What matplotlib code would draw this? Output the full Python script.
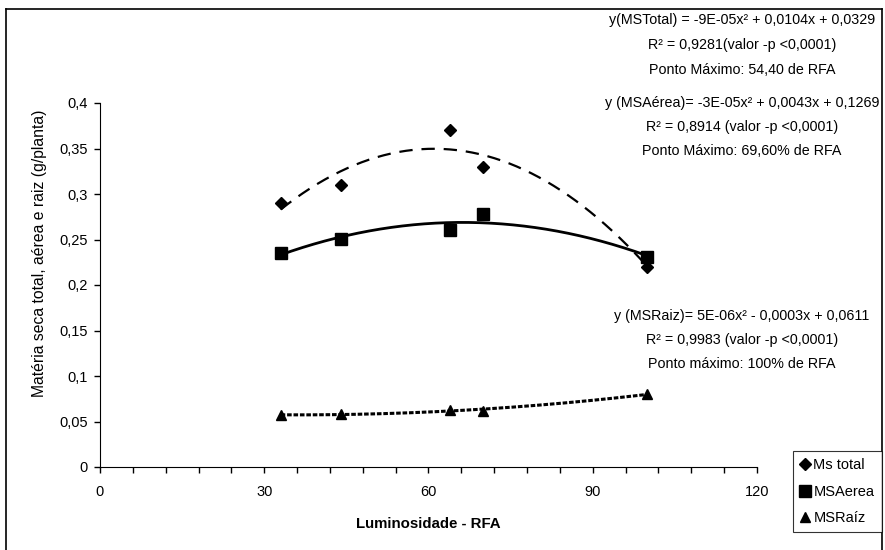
import numpy as np
import matplotlib
matplotlib.use('Agg')
import matplotlib.pyplot as plt
from matplotlib.lines import Line2D

plt.rcParams['font.family'] = ['Liberation Sans', 'DejaVu Sans']

# data
rfa = [33, 44, 64, 70, 100]
ms_total = [0.29, 0.31, 0.37, 0.33, 0.22]
ms_aerea = [0.235, 0.251, 0.26, 0.278, 0.231]
ms_raiz = [0.057, 0.058, 0.063, 0.062, 0.080]

x_ticks = [0, 30, 60, 90, 120]
y_ticks = [0, 0.05, 0.1, 0.15, 0.2, 0.25, 0.3, 0.35, 0.4]
y_ticklabels = ['0', '0,05', '0,1', '0,15', '0,2', '0,25', '0,3', '0,35', '0,4']

eq_total = ['y(MSTotal) = -9E-05x\u00b2 + 0,0104x + 0,0329',
            'R\u00b2 = 0,9281(valor -p <0,0001)',
            'Ponto M\u00e1ximo: 54,40 de RFA']
eq_aerea = ['y (MSA\u00e9rea)= -3E-05x\u00b2 + 0,0043x + 0,1269',
            'R\u00b2 = 0,8914 (valor -p <0,0001)',
            'Ponto M\u00e1ximo: 69,60% de RFA']
eq_raiz = ['y (MSRaiz)= 5E-06x\u00b2 - 0,0003x + 0,0611',
           'R\u00b2 = 0,9983 (valor -p <0,0001)',
           'Ponto m\u00e1ximo: 100% de RFA']

W, H = 885, 550
fig = plt.figure(figsize=(W / 100, H / 100), dpi=100)
ax = fig.add_axes([100 / W, 1 - 467 / H, (757 - 100) / W, (467 - 103) / H])

# quadratic trend lines
xs = np.linspace(min(rfa), max(rfa), 200)
fit_t = np.polyval(np.polyfit(rfa, ms_total, 2), xs)
fit_a = np.polyval(np.polyfit(rfa, ms_aerea, 2), xs)
fit_r = np.polyval(np.polyfit(rfa, ms_raiz, 2), xs)
ax.plot(xs, fit_t, color='black', lw=1.6, linestyle=(0, (6, 4)))
ax.plot(xs, fit_a, color='black', lw=2.0)
ax.plot(xs, fit_r, color='black', lw=2.2, linestyle=(0, (1.5, 0.6)))

ax.plot(rfa, ms_total, 'D', color='black', ms=6, label='Ms total')
ax.plot(rfa, ms_aerea, 's', color='black', ms=8, label='MSAerea')
ax.plot(rfa, ms_raiz, '^', color='black', ms=7, label='MSRaíz')

ax.set_xlim(0, 120)
ax.set_ylim(0, 0.4)
minor_steps = list(range(0, 121, 6))
ax.set_xticks(minor_steps)
ax.set_xticklabels([str(v) if v in x_ticks else '' for v in minor_steps], fontsize=10.5)
ax.set_yticks(y_ticks)
ax.set_yticklabels(y_ticklabels, fontsize=10.5)
ax.tick_params(direction='out', length=4, width=1)
ax.tick_params(axis='x', pad=9)
ax.tick_params(axis='y', pad=5)
ax.spines['top'].set_visible(False)
ax.spines['right'].set_visible(False)
ax.set_xlabel('Luminosidade - RFA', fontsize=10.8, fontweight='bold', labelpad=13)
fig.text(40 / W, 1 - 253 / H, 'Matéria seca total, aérea e raiz (g/planta)',
         rotation=90, ha='center', va='center', fontsize=11.3)

leg = fig.legend(loc='upper left', bbox_to_anchor=(793 / W, 1 - 451 / H),
                 frameon=True, fancybox=False, edgecolor='black',
                 fontsize=10.5, handlelength=0.6, handletextpad=0.3,
                 borderpad=0.5, labelspacing=0.85, borderaxespad=0)
leg.get_frame().set_linewidth(0.8)

for block, ys in [(eq_total, [20, 45, 70]), (eq_aerea, [103, 127, 151]),
                  (eq_raiz, [316, 340, 364])]:
    for txt, yp in zip(block, ys):
        fig.text(742 / W, 1 - yp / H, txt, ha='center', va='center', fontsize=10.3)

# outer frame
fr = dict(color='black', lw=1.2, transform=fig.transFigure)
fig.add_artist(Line2D([6 / W, 6 / W], [0, 1 - 9 / H], **fr))
fig.add_artist(Line2D([6 / W, 882 / W], [1 - 9 / H, 1 - 9 / H], **fr))
fig.add_artist(Line2D([882 / W, 882 / W], [0, 1 - 9 / H], **fr))

fig.savefig('out.png', dpi=100)
